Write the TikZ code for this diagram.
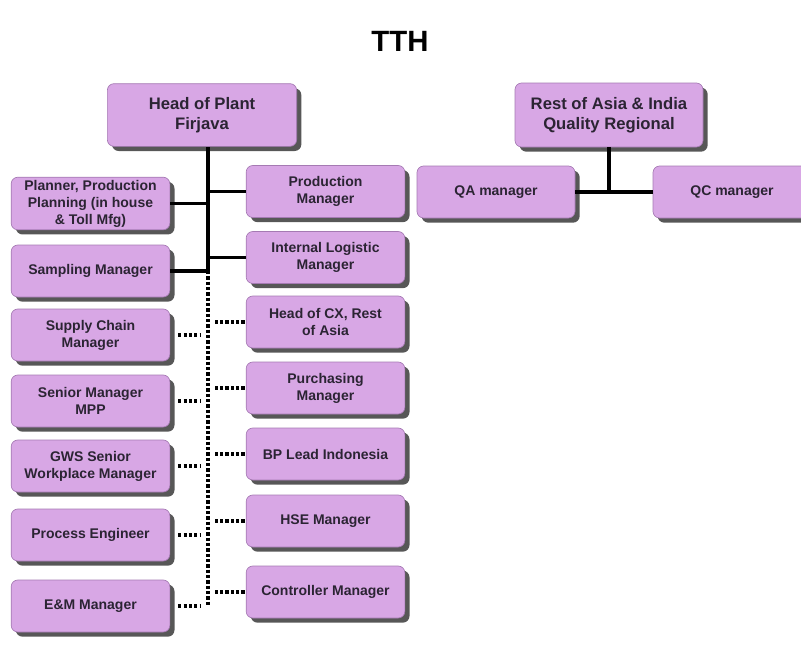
\documentclass[tikz,border=0pt]{standalone}
\usepackage{fontspec}
\setmainfont{Liberation Sans}
\usetikzlibrary{shadows}
\definecolor{boxfill}{HTML}{D8A7E5}
\definecolor{boxline}{HTML}{A57AB3}
\definecolor{boxtext}{HTML}{2B2433}
\tikzset{
  role/.style={draw=boxline, fill=boxfill, rounded corners=5pt, line width=0.5pt,
    minimum width=119pt, minimum height=39pt, align=center, text=boxtext,
    inner sep=2pt, font=\bfseries\fontsize{10.5}{12.8}\selectfont,
    drop shadow={shadow xshift=3.5pt, shadow yshift=-3.5pt, fill=black!66, opacity=1}},
  bigrole/.style={role, minimum width=142pt, minimum height=47pt,
    font=\bfseries\fontsize{12.5}{15}\selectfont},
  solidlink/.style={line width=2.6pt},
  dotlink/.style={line width=2.6pt, dash pattern=on 2.4pt off 1.6pt},
}
\begin{document}
\begin{tikzpicture}[x=0.75pt, y=-0.75pt]
    \useasboundingbox (0,0) rectangle (801,650);
    \clip (0,0) rectangle (801,650);
    % 标题
    \node[font=\bfseries\fontsize{22}{26}\selectfont] (title) at (400,41) {TTH};
    % 左侧组织
    \node[bigrole] (head) at (202,115) {Head of Plant\\Firjava};
    \node[role] (plan) at (90.5,203.5) {Planner, Production\\Planning (in house\\\& Toll Mfg)};
    \node[role] (samp) at (90.5,271) {Sampling Manager};
    \node[role] (supc) at (90.5,335) {Supply Chain\\Manager};
    \node[role] (senr) at (90.5,401) {Senior Manager\\MPP};
    \node[role] (gws) at (90.5,466) {GWS Senior\\Workplace Manager};
    \node[role] (proc) at (90.5,535) {Process Engineer};
    \node[role] (em) at (90.5,606) {E\&M Manager};
    \node[role] (prod) at (325.5,191.5) {Production\\Manager};
    \node[role] (ilog) at (325.5,257.5) {Internal Logistic\\Manager};
    \node[role] (cx) at (325.5,322) {Head of CX, Rest\\of Asia};
    \node[role] (purc) at (325.5,388) {Purchasing\\Manager};
    \node[role] (bp) at (325.5,454) {BP Lead Indonesia};
    \node[role] (hse) at (325.5,521) {HSE Manager};
    \node[role] (ctrl) at (325.5,592) {Controller Manager};
    % 连线
    \coordinate (spinetop) at (208,147);
    \coordinate (spinemid) at (208,271);
    \coordinate (spinebot) at (208,606);
    \draw[solidlink] (spinetop) -- (spinemid);
    \draw[dotlink] (spinemid) -- (spinebot);
    \foreach \n in {plan,samp}
        \draw[solidlink] (\n.east) -- (\n.east -| spinetop);
    \foreach \n in {prod,ilog}
        \draw[solidlink] (\n.west) -- (\n.west -| spinetop);
    \foreach \n in {supc,senr,gws,proc,em}
        \draw[dotlink, shorten <=6pt, shorten >=6pt] (\n.east) -- (\n.east -| spinetop);
    \foreach \n in {cx,purc,bp,hse,ctrl}
        \draw[dotlink, shorten <=1pt, shorten >=5pt] (\n.west) -- (\n.west -| spinetop);
    % 右侧组织
    \node[bigrole, minimum width=141pt, minimum height=48pt] (rest) at (609,115) {Rest of Asia \& India\\Quality Regional};
    \node[role, minimum width=118.5pt] (qa) at (496,192) {QA manager};
    \node[role, minimum width=118.5pt] (qc) at (732,192) {QC manager};
    \draw[solidlink] (qa.east) -- (qc.west);
    \draw[solidlink] (rest.south) -- (rest.south |- qa.east);
\end{tikzpicture}
\end{document}
